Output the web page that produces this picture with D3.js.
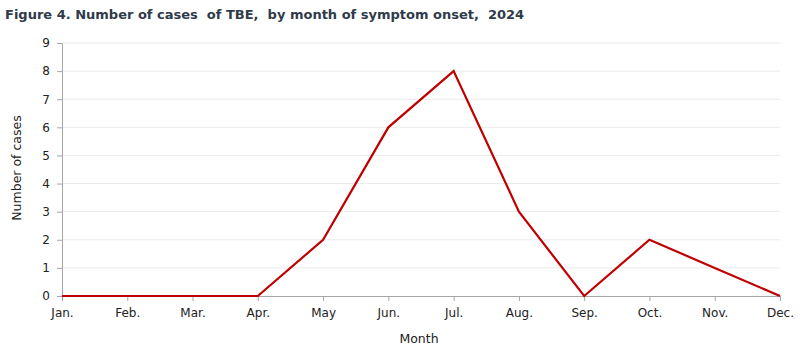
<!DOCTYPE html>
<html><head><meta charset="utf-8">
<script src="https://cdn.jsdelivr.net/npm/d3@7"></script>
<style>body{margin:0;background:#fff;} svg{display:block;font-family:"DejaVu Sans",sans-serif;}</style>
</head><body>
<svg id="c" width="800" height="350"></svg>
<script>
const months = ["Jan.","Feb.","Mar.","Apr.","May","Jun.","Jul.","Aug.","Sep.","Oct.","Nov.","Dec."];
const cases = [0,0,0,0,2,6,8,3,0,2,1,0];
const yTicks = [0,1,2,3,4,5,6,7,8,9];
const title = "Figure 4. Number of cases  of TBE,  by month of symptom onset,  2024";

const FONT = '"DejaVu Sans",sans-serif';
const svg = d3.select("#c");
const x = d3.scalePoint().domain(months).range([62, 780]);
const y = d3.scaleLinear().domain([0, 9]).range([296, 43]);

svg.append("text").attr("x", 5).attr("y", 19).attr("font-size", 13).attr("font-weight", "bold")
  .attr("fill", "#2f3a4a").style("white-space", "pre").text(title);

svg.append("g").selectAll("line").data(yTicks.filter(d => d > 0)).join("line")
  .attr("x1", 62).attr("x2", 780).attr("y1", d => y(d)).attr("y2", d => y(d))
  .attr("stroke", "#ebebeb").attr("stroke-width", 1);

const yAxis = svg.append("g").attr("transform", "translate(62,0)")
  .call(d3.axisLeft(y).tickValues(yTicks).tickSize(5).tickPadding(7).tickFormat(d3.format("d")));
const xAxis = svg.append("g").attr("transform", "translate(0,296)")
  .call(d3.axisBottom(x).tickSize(5).tickPadding(7));
[yAxis, xAxis].forEach(g => {
  g.selectAll("path.domain").attr("stroke", "#a6a6a6");
  g.selectAll(".tick line").attr("stroke", "#a6a6a6");
  g.selectAll(".tick text").attr("fill", "#222").attr("font-size", 12).attr("font-family", FONT);
});

svg.append("text").attr("transform", "translate(21,168) rotate(-90)").attr("text-anchor", "middle")
  .attr("font-size", 12.5).attr("fill", "#222").text("Number of cases");
svg.append("text").attr("x", 419).attr("y", 343).attr("text-anchor", "middle")
  .attr("font-size", 12.5).attr("fill", "#222").text("Month");

svg.append("path").datum(cases)
  .attr("d", d3.line().x((d, i) => x(months[i])).y(d => y(d)))
  .attr("fill", "none").attr("stroke", "#c00000").attr("stroke-width", 2.2);
</script>
</body></html>
